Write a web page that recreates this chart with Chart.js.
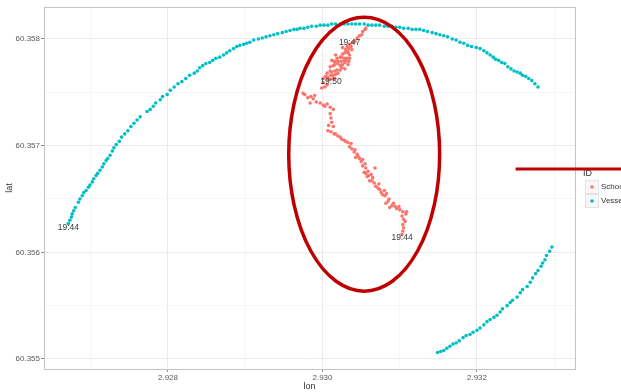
<!DOCTYPE html>
<html>
<head>
<meta charset="utf-8">
<script src="https://cdn.jsdelivr.net/npm/chart.js@4/dist/chart.umd.min.js"></script>
<style>
  html, body { margin: 0; padding: 0; background: #fff; }
  canvas { display: block; }
</style>
</head>
<body>
<canvas id="trackChart" width="621" height="392"></canvas>
<script>
// positions as [lon, lat]
var schoolTrack = [
  [2.93103,60.35617],[2.93104,60.35620],[2.93105,60.35623],[2.93104,60.35626],[2.93107,60.35629],[2.93105,60.35631],
  [2.93103,60.35634],[2.93108,60.35636],[2.93104,60.35638],[2.93109,60.35638],[2.93100,60.35640],[2.93096,60.35641],
  [2.93099,60.35643],[2.93094,60.35643],[2.93090,60.35644],[2.93092,60.35646],[2.93087,60.35642],[2.93085,60.35648],
  [2.93082,60.35646],[2.93086,60.35650],[2.93081,60.35653],[2.93083,60.35655],[2.93078,60.35654],[2.93076,60.35656],
  [2.93080,60.35658],[2.93074,60.35659],[2.93072,60.35660],[2.93069,60.35662],[2.93073,60.35664],[2.93067,60.35665],
  [2.93064,60.35667],[2.93061,60.35667],[2.93065,60.35670],[2.93060,60.35672],[2.93058,60.35671],[2.93063,60.35673],
  [2.93056,60.35674],[2.93054,60.35675],[2.93059,60.35676],[2.93068,60.35679],[2.93056,60.35679],[2.93052,60.35681],
  [2.93055,60.35683],[2.93050,60.35685],[2.93052,60.35687],[2.93048,60.35688],[2.93046,60.35690],[2.93043,60.35689],
  [2.93045,60.35692],[2.93041,60.35694],[2.93042,60.35696],[2.93038,60.35697],[2.93035,60.35699],[2.93037,60.35702],
  [2.93033,60.35703],[2.93030,60.35704],[2.93028,60.35705],[2.93025,60.35706],[2.93023,60.35708],[2.93020,60.35709],
  [2.93017,60.35711],[2.93015,60.35711],[2.93011,60.35713],[2.93007,60.35714],[2.93014,60.35718],[2.93008,60.35719],
  [2.93012,60.35722],[2.93011,60.35726],[2.93010,60.35730],[2.93014,60.35734],[2.93010,60.35736],[2.93006,60.35739],
  [2.93001,60.35738],[2.92997,60.35740],[2.92992,60.35741],[2.92988,60.35744],[2.92985,60.35746],[2.92981,60.35745],
  [2.92977,60.35748],[2.92975,60.35749],[2.92984,60.35740],[2.92990,60.35747],[2.93003,60.35737],[2.92999,60.35754],
  [2.93003,60.35755],[2.93006,60.35757],[2.93001,60.35759],[2.93007,60.35762],[2.93010,60.35762],[2.93014,60.35763],
  [2.93016,60.35763],[2.93001,60.35763],[2.93004,60.35765],[2.93007,60.35764],[2.93011,60.35766],[2.93014,60.35766],
  [2.93017,60.35767],[2.93020,60.35768],[2.93006,60.35768],[2.93010,60.35770],[2.93012,60.35769],[2.93016,60.35770],
  [2.93019,60.35771],[2.93023,60.35771],[2.93025,60.35773],[2.93029,60.35772],[2.93010,60.35774],[2.93014,60.35775],
  [2.93016,60.35776],[2.93020,60.35777],[2.93023,60.35775],[2.93026,60.35776],[2.93029,60.35778],[2.93033,60.35776],
  [2.93015,60.35779],[2.93017,60.35779],[2.93020,60.35779],[2.93024,60.35779],[2.93028,60.35780],[2.93030,60.35780],
  [2.93034,60.35779],[2.93012,60.35780],[2.93019,60.35782],[2.93023,60.35783],[2.93025,60.35783],[2.93029,60.35782],
  [2.93032,60.35782],[2.93035,60.35782],[2.93017,60.35785],[2.93026,60.35786],[2.93029,60.35787],[2.93033,60.35787],
  [2.93035,60.35785],[2.93030,60.35790],[2.93026,60.35792],[2.93033,60.35788],[2.93034,60.35791],[2.93038,60.35790],
  [2.93037,60.35793],[2.93032,60.35793],[2.93035,60.35795],[2.93039,60.35797],[2.93042,60.35798],[2.93045,60.35801],
  [2.93048,60.35803],[2.93051,60.35804],[2.93052,60.35807],[2.93055,60.35809],[2.93056,60.35810]
];

// vessel: long arc to the north, then the leg in the south-east corner
var vesselArc = [
  [2.92671,60.35627],[2.92673,60.35630],[2.92675,60.35633],[2.92676,60.35636],[2.92678,60.35639],[2.92680,60.35642],
  [2.92684,60.35647],[2.92686,60.35650],[2.92689,60.35653],[2.92691,60.35656],[2.92694,60.35658],[2.92697,60.35661],
  [2.92699,60.35663],[2.92702,60.35666],[2.92704,60.35669],[2.92707,60.35672],[2.92709,60.35674],[2.92712,60.35677],
  [2.92715,60.35680],[2.92717,60.35683],[2.92720,60.35686],[2.92722,60.35688],[2.92725,60.35691],[2.92728,60.35695],
  [2.92730,60.35698],[2.92733,60.35701],[2.92737,60.35704],[2.92740,60.35708],[2.92744,60.35711],[2.92748,60.35714],
  [2.92752,60.35718],[2.92756,60.35721],[2.92760,60.35724],[2.92764,60.35727],[2.92773,60.35732],[2.92777,60.35734],
  [2.92781,60.35737],[2.92784,60.35740],[2.92790,60.35743],[2.92793,60.35746],[2.92799,60.35748],[2.92803,60.35752],
  [2.92808,60.35755],[2.92813,60.35758],[2.92818,60.35760],[2.92823,60.35763],[2.92828,60.35766],[2.92834,60.35768],
  [2.92838,60.35770],[2.92841,60.35773],[2.92845,60.35775],[2.92849,60.35777],[2.92854,60.35778],[2.92858,60.35780],
  [2.92862,60.35782],[2.92867,60.35783],[2.92872,60.35785],[2.92876,60.35787],[2.92880,60.35789],[2.92885,60.35791],
  [2.92889,60.35793],[2.92893,60.35794],[2.92898,60.35795],[2.92902,60.35796],[2.92906,60.35797],[2.92911,60.35799],
  [2.92917,60.35800],[2.92922,60.35801],[2.92927,60.35802],[2.92932,60.35803],[2.92937,60.35804],[2.92942,60.35805],
  [2.92948,60.35806],[2.92953,60.35807],[2.92958,60.35808],[2.92963,60.35809],[2.92967,60.35809],[2.92971,60.35810],
  [2.92976,60.35810],[2.92981,60.35811],[2.92986,60.35812],[2.92992,60.35812],[2.92997,60.35813],[2.93002,60.35813],
  [2.93007,60.35813],[2.93012,60.35814],[2.93017,60.35814],[2.93023,60.35814],[2.93028,60.35814],[2.93033,60.35814],
  [2.93038,60.35814],[2.93043,60.35814],[2.93048,60.35814],[2.93054,60.35814],[2.93059,60.35813],[2.93064,60.35813],
  [2.93069,60.35813],[2.93074,60.35813],[2.93080,60.35812],[2.93085,60.35812],[2.93090,60.35812],[2.93095,60.35811],
  [2.93100,60.35811],[2.93105,60.35810],[2.93111,60.35810],[2.93116,60.35809],[2.93121,60.35809],[2.93126,60.35809],
  [2.93131,60.35808],[2.93136,60.35807],[2.93142,60.35806],[2.93147,60.35805],[2.93152,60.35804],[2.93157,60.35803],
  [2.93162,60.35802],[2.93168,60.35800],[2.93173,60.35799],[2.93178,60.35797],[2.93183,60.35796],[2.93188,60.35794],
  [2.93193,60.35793],[2.93199,60.35792],[2.93204,60.35791],[2.93209,60.35789],[2.93213,60.35787],[2.93217,60.35785],
  [2.93221,60.35783],[2.93224,60.35781],[2.93228,60.35780],[2.93232,60.35778],[2.93236,60.35777],[2.93240,60.35774],
  [2.93244,60.35772],[2.93248,60.35770],[2.93252,60.35769],[2.93256,60.35768],[2.93259,60.35766],[2.93263,60.35765],
  [2.93267,60.35763],[2.93271,60.35761],[2.93275,60.35758],[2.93279,60.35755]
];

var vesselSouth = [
  [2.93149,60.35506],[2.93153,60.35507],[2.93157,60.35508],[2.93161,60.35510],[2.93165,60.35512],[2.93169,60.35514],
  [2.93173,60.35515],[2.93177,60.35517],[2.93182,60.35520],[2.93186,60.35522],[2.93191,60.35523],[2.93195,60.35525],
  [2.93200,60.35527],[2.93204,60.35529],[2.93209,60.35532],[2.93213,60.35535],[2.93217,60.35537],[2.93222,60.35539],
  [2.93226,60.35541],[2.93230,60.35544],[2.93233,60.35547],[2.93239,60.35550],[2.93243,60.35553],[2.93246,60.35555],
  [2.93252,60.35558],[2.93256,60.35562],[2.93259,60.35565],[2.93265,60.35568],[2.93269,60.35572],[2.93272,60.35576],
  [2.93276,60.35580],[2.93279,60.35583],[2.93283,60.35587],[2.93285,60.35590],[2.93288,60.35593],[2.93290,60.35597],
  [2.93294,60.35601],[2.93297,60.35605]
];

// time stamps written next to the tracks
var stampText = ['19:44', '19:44', '19:47', '19:50'];
var stampLon = [2.92671, 2.93103, 2.93035, 2.93011];
var stampLat = [60.35623, 60.35614, 60.35797, 60.35760];

var idLevels = ['School', 'Vessel'];
var idColors = ['#F8766D', '#00BFC4'];

var xMajor = [2.928, 2.930, 2.932];
var xMinor = [2.927, 2.929, 2.931, 2.933];
var yMajor = [60.355, 60.356, 60.357, 60.358];
var yMinor = [60.3555, 60.3565, 60.3575];

// red highlight: ellipse round the school track and a pointer line
var ringCentre = [2.93054, 60.35692];
var ringRadius = [0.000977, 0.001284];
var pointerFrom = [2.93250, 60.35678];

var FONT = '"Liberation Sans", Arial, Helvetica, sans-serif';
Chart.defaults.font.family = FONT;

function isMajor(list, v) {
  return list.some(function (m) { return Math.abs(m - v) < 1e-7; });
}
function toPoints(track) {
  return track.map(function (p) { return { x: p[0], y: p[1] }; });
}
function tickSet(major, minor) {
  return function (scale) {
    scale.ticks = major.concat(minor).sort(function (a, b) { return a - b; })
      .map(function (v) { return { value: v }; });
  };
}

var overlay = {
  id: 'overlay',
  beforeDatasetsDraw: function (chart) {
    var ctx = chart.ctx, a = chart.chartArea;
    ctx.save();
    ctx.strokeStyle = '#c4c4c4';
    ctx.lineWidth = 1;
    ctx.strokeRect(a.left + 0.5, a.top + 0.5, a.right - a.left, a.bottom - a.top);
    ctx.restore();
  },
  afterDatasetsDraw: function (chart) {
    var ctx = chart.ctx, xs = chart.scales.x, ys = chart.scales.y;
    ctx.save();

    ctx.font = '8.5px ' + FONT;
    ctx.fillStyle = '#3a3a3a';
    ctx.textAlign = 'center';
    ctx.textBaseline = 'middle';
    for (var i = 0; i < stampText.length; i++) {
      ctx.fillText(stampText[i], xs.getPixelForValue(stampLon[i]), ys.getPixelForValue(stampLat[i]));
    }

    // legend
    ctx.textAlign = 'left';
    ctx.font = '9px ' + FONT;
    ctx.fillStyle = '#333';
    ctx.fillText('ID', 583, 174);
    ctx.font = '8px ' + FONT;
    idLevels.forEach(function (name, k) {
      var top = 180 + k * 14;
      ctx.fillStyle = '#f7f7f7';
      ctx.fillRect(585, top, 14, 14);
      ctx.strokeStyle = '#e3e3e3';
      ctx.strokeRect(585.5, top + 0.5, 13, 13);
      ctx.fillStyle = idColors[k];
      ctx.beginPath();
      ctx.arc(592, top + 7, 1.8, 0, Math.PI * 2);
      ctx.fill();
      ctx.fillStyle = '#333';
      ctx.fillText(name, 601, top + 7);
    });

    // highlight
    var cx = xs.getPixelForValue(ringCentre[0]);
    var cy = ys.getPixelForValue(ringCentre[1]);
    var rx = xs.getPixelForValue(ringCentre[0] + ringRadius[0]) - cx;
    var ry = cy - ys.getPixelForValue(ringCentre[1] + ringRadius[1]);
    ctx.strokeStyle = '#c00000';
    ctx.lineWidth = 3.5;
    ctx.beginPath();
    ctx.ellipse(cx, cy, rx, ry, 0, 0, Math.PI * 2);
    ctx.stroke();

    var py = ys.getPixelForValue(pointerFrom[1]);
    ctx.lineWidth = 3;
    ctx.beginPath();
    ctx.moveTo(xs.getPixelForValue(pointerFrom[0]), py);
    ctx.lineTo(chart.width, py);
    ctx.stroke();

    ctx.restore();
  }
};

new Chart(document.getElementById('trackChart'), {
  type: 'scatter',
  data: {
    datasets: [
      {
        label: idLevels[0],
        data: toPoints(schoolTrack),
        backgroundColor: idColors[0],
        pointRadius: 1.8,
        pointHoverRadius: 1.8,
        borderWidth: 0
      },
      {
        label: idLevels[1],
        data: toPoints(vesselArc.concat(vesselSouth)),
        backgroundColor: idColors[1],
        pointRadius: 1.8,
        pointHoverRadius: 1.8,
        borderWidth: 0
      }
    ]
  },
  options: {
    responsive: false,
    animation: false,
    devicePixelRatio: 1,
    layout: { padding: { top: 7, right: 46, bottom: 0, left: 0 } },
    plugins: { legend: { display: false }, tooltip: { enabled: false } },
    scales: {
      x: {
        type: 'linear',
        min: 2.926395,
        max: 2.933269,
        afterBuildTicks: tickSet(xMajor, xMinor),
        afterFit: function (s) { s.height = 23; },
        border: { display: false },
        grid: {
          lineWidth: 1,
          tickLength: 3,
          color: function (c) { return isMajor(xMajor, c.tick.value) ? '#ebebeb' : '#f6f6f6'; },
          tickColor: function (c) { return isMajor(xMajor, c.tick.value) ? '#8c8c8c' : 'rgba(0,0,0,0)'; }
        },
        ticks: {
          autoSkip: false,
          maxRotation: 0,
          padding: 1,
          color: '#5a5a5a',
          font: { size: 8 },
          callback: function (v) { return isMajor(xMajor, v) ? v.toFixed(3) : ''; }
        },
        title: { display: true, text: 'lon', color: '#333', font: { size: 9 }, padding: { top: 0, bottom: 0 } }
      },
      y: {
        type: 'linear',
        min: 60.354906,
        max: 60.3583,
        afterBuildTicks: tickSet(yMajor, yMinor),
        afterFit: function (s) { s.width = 44; },
        border: { display: false },
        grid: {
          lineWidth: 1,
          tickLength: 3,
          color: function (c) { return isMajor(yMajor, c.tick.value) ? '#ebebeb' : '#f6f6f6'; },
          tickColor: function (c) { return isMajor(yMajor, c.tick.value) ? '#8c8c8c' : 'rgba(0,0,0,0)'; }
        },
        ticks: {
          autoSkip: false,
          padding: 1,
          color: '#5a5a5a',
          font: { size: 8 },
          callback: function (v) { return isMajor(yMajor, v) ? v.toFixed(3) : ''; }
        },
        title: { display: true, text: 'lat', color: '#333', font: { size: 9 }, padding: { top: 4, bottom: 0 } }
      }
    }
  },
  plugins: [overlay]
});
</script>
</body>
</html>
